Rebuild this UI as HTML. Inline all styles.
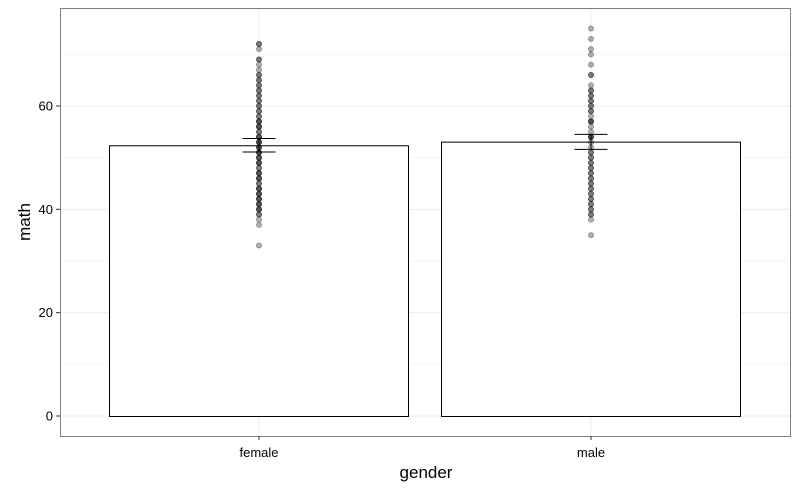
<!DOCTYPE html>
<html><head><meta charset="utf-8"><style>
body{margin:0;background:#fff;font-family:"Liberation Sans",sans-serif}
svg{display:block}
</style></head><body>
<svg id="chart" width="800" height="492" xmlns="http://www.w3.org/2000/svg">
<rect width="800" height="492" fill="#fff"/>
<g id="grid"></g>
<g id="bars"></g>
<g id="pts"></g>
<g id="errs"></g>
<rect x="60.5" y="8.5" width="730" height="428" fill="none" stroke="#7f7f7f" stroke-width="1"/>
<g id="axes"></g>
<text x="426" y="478" font-size="17" text-anchor="middle" fill="#000">gender</text>
<text transform="translate(30,222) rotate(-90)" font-size="17" text-anchor="middle" fill="#000">math</text>
</svg>
<script>
const categories=["female","male"];
const means=[52.4,53.1];
const errLow=[51.1,51.6];
const errHigh=[53.7,54.5];
const yTicks=[0,20,40,60];
const femalePoints=[33,37,38,39,39,40,40,40,41,41,41,42,42,42,43,43,43,44,44,44,45,45,46,46,46,47,47,47,48,48,49,49,49,50,50,50,51,51,51,52,52,52,53,53,53,54,54,54,55,55,56,56,56,57,57,57,58,58,59,59,60,60,61,61,62,62,63,63,64,64,65,65,66,66,67,68,69,69,71,72,72];
const malePoints=[35,38,39,39,40,40,41,41,42,42,43,43,44,44,45,45,46,46,47,47,48,48,49,49,50,50,51,51,52,53,54,54,54,55,56,57,57,57,58,59,59,60,60,61,61,62,62,63,63,64,66,66,68,70,71,73,75];
const pointSets=[femalePoints,malePoints];
const NS="http://www.w3.org/2000/svg";
const y0=416,pxPerUnit=310/60;
function yScale(v){return y0-v*pxPerUnit;}
function xCenter(i){return 259+332*i;}
const barW=300;
function mk(tag,attrs,parent){const e=document.createElementNS(NS,tag);for(const k in attrs)e.setAttribute(k,attrs[k]);parent.appendChild(e);return e;}
const grid=document.getElementById('grid');
const minor=[10,30,50,70];
minor.forEach(v=>{const l=mk('line',{x1:60,x2:790,y1:yScale(v),y2:yScale(v),stroke:'#f5f5f5','stroke-width':1},grid);

});
yTicks.forEach(v=>{const l=mk('line',{x1:60,x2:790,y1:yScale(v),y2:yScale(v),stroke:'#ebebeb','stroke-width':1},grid);

});
categories.forEach((c,i)=>{const l=mk('line',{x1:xCenter(i),x2:xCenter(i),y1:8,y2:436,stroke:'#ebebeb','stroke-width':1},grid);

});
const bars=document.getElementById('bars');
means.forEach((m,i)=>{const r=mk('rect',{x:xCenter(i)-barW/2+0.5,y:yScale(m)+0.5,width:barW-1,height:y0-yScale(m),fill:'#fff',stroke:'#000','stroke-width':1},bars);

});
const pts=document.getElementById('pts');
pointSets.forEach((arr,i)=>{arr.forEach(v=>{const c=mk('circle',{cx:xCenter(i),cy:yScale(v),r:2.6,fill:'rgba(0,0,0,0.3)',stroke:'rgba(0,0,0,0.35)','stroke-width':0.8},pts);

});});
const errs=document.getElementById('errs');
categories.forEach((c,i)=>{const x=xCenter(i),hw=16.5;
const g=mk('g',{stroke:'#000','stroke-width':1,fill:'none'},errs);


mk('line',{x1:x-hw,x2:x+hw,y1:yScale(errHigh[i]),y2:yScale(errHigh[i])},g);
mk('line',{x1:x-hw,x2:x+hw,y1:yScale(errLow[i]),y2:yScale(errLow[i])},g);
mk('line',{x1:x,x2:x,y1:yScale(errHigh[i]),y2:yScale(errLow[i])},g);});
const axes=document.getElementById('axes');
yTicks.forEach(v=>{const t=mk('text',{x:53,y:yScale(v)+4.5,'font-size':13,'text-anchor':'end',fill:'#000'},axes);t.textContent=v;


const l=mk('line',{x1:56,x2:60,y1:yScale(v),y2:yScale(v),stroke:'#333'},axes);

});
categories.forEach((c,i)=>{const t=mk('text',{x:xCenter(i),y:457,'font-size':13,'text-anchor':'middle',fill:'#000'},axes);t.textContent=c;


const l=mk('line',{x1:xCenter(i),x2:xCenter(i),y1:436,y2:440,stroke:'#333'},axes);

});
</script>
</body></html>
